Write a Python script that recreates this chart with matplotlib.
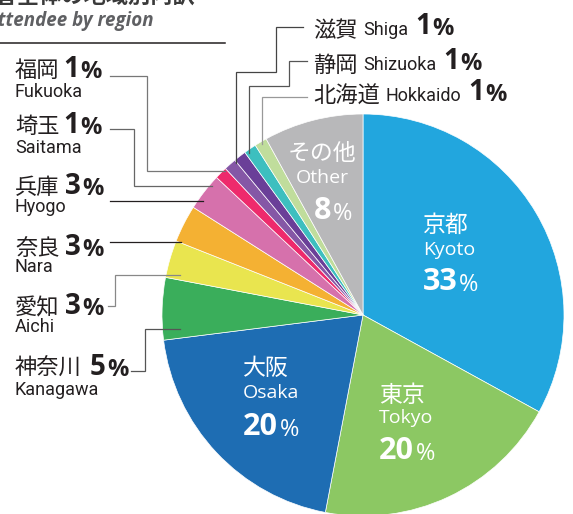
# -*- coding: utf-8 -*-
"""Attendee share by region: pie chart with leader labels."""

import matplotlib

matplotlib.use("Agg")
import matplotlib.pyplot as plt


W, H = 573, 514

TITLE_JA = "参加者全体の地域別内訳"
TITLE_EN = "Attendee by region"

REGIONS_JA = ["京都", "東京", "大阪", "神奈川", "愛知", "奈良", "兵庫",
              "埼玉", "福岡", "滋賀", "静岡", "北海道", "その他"]
REGIONS_EN = ["Kyoto", "Tokyo", "Osaka", "Kanagawa", "Aichi", "Nara", "Hyogo",
              "Saitama", "Fukuoka", "Shiga", "Shizuoka", "Hokkaido", "Other"]
SHARES = [33, 20, 20, 5, 3, 3, 3, 1, 1, 1, 1, 1, 8]

COLORS = ["#22a6de", "#8cc863", "#1e6db3", "#3aae5b", "#e9e54f", "#f4b133",
          "#d671ac", "#ee2a6c", "#8557a6", "#6a3f98", "#3dbfbf", "#c0dd9c",
          "#b8b8ba"]

CX, CY, R = 363, 315, 201  # pie centre / radius, pixels from top-left

JA = ["Noto Sans CJK JP", "DejaVu Sans"]
NARROW = ["Roboto", "DejaVu Sans"]
SANS = ["Open Sans", "DejaVu Sans"]
INK = "#231f20"


def Y(y):
    return H - y


def pct(ax, x, y, value, size, psize, color, pweight="bold"):
    t = ax.text(x, Y(y), str(value), fontsize=size, fontweight="bold",
                family=SANS, color=color, ha="left", va="baseline")
    ax.annotate("%", xy=(1, 0), xycoords=t, xytext=(1, 0),
                textcoords="offset points", fontsize=psize, fontweight=pweight,
                family=SANS, color=color, ha="left", va="bottom")
    return t


def leader(ax, pts, color):
    ax.plot([p[0] for p in pts], [Y(p[1]) for p in pts], color=color,
            lw=0.9, solid_joinstyle="miter", zorder=3)


fig = plt.figure(figsize=(W / 100, H / 100), dpi=100)
ax = fig.add_axes([0, 0, 1, 1])
ax.pie(SHARES, colors=COLORS, startangle=90, counterclock=False,
       center=(CX, Y(CY)), radius=R,
       wedgeprops=dict(edgecolor="white", linewidth=0.5))
ax.set_xlim(0, W)
ax.set_ylim(0, H)
ax.set_aspect("equal")
ax.axis("off")

# title (cut off by the top/left edges, as in the source)
ax.text(196, Y(-4), TITLE_JA, fontsize=16, fontweight="bold", family=JA,
        color="#3a3a3a", ha="right", va="center")
ax.text(154, Y(26), TITLE_EN, fontsize=13.5, fontweight="bold",
        style="italic", family=SANS, color="#5f6063", ha="right",
        va="baseline")
ax.plot([0, 225], [Y(43), Y(43)], color=INK, lw=1.1)

# labels inside the big slices: index, left x, baselines (ja, en, number)
inside = [
    (0, 423, 232, 255, 290, "left"),
    (1, 379, 402, 423, 459, "left"),
    (2, 243, 375, 398, 435, "left"),
    (12, 322, 160, 183, 219, "center"),
]
for i, x, yj, ye, yn, align in inside:
    if align == "center":
        ax.text(x, Y(yj), REGIONS_JA[i], fontsize=16.5, family=JA,
                color="white", ha="center", va="baseline")
        ax.text(x, Y(ye), REGIONS_EN[i], fontsize=14, family=SANS,
                color="white", ha="center", va="baseline")
        pct(ax, x - 8, yn, SHARES[i], 22, 17, "white", "normal")
    else:
        ax.text(x, Y(yj), REGIONS_JA[i], fontsize=16.5, family=JA,
                color="white", ha="left", va="baseline")
        ax.text(x, Y(ye), REGIONS_EN[i], fontsize=14, family=SANS,
                color="white", ha="left", va="baseline")
        pct(ax, x, yn, SHARES[i], 22, 17, "white", "normal")

# left-hand labels: index, ja/number baseline, en baseline, number x
left = [
    (8, 77, 97, 63),
    (7, 133, 153, 63),
    (6, 194, 212, 65),
    (5, 255, 272, 65),
    (4, 314, 332, 65),
    (3, 375, 395, 90),
]
for i, yj, ye, xn in left:
    ax.text(15, Y(yj), REGIONS_JA[i], fontsize=16, family=JA, color=INK,
            ha="left", va="baseline")
    ax.text(15, Y(ye), REGIONS_EN[i], fontsize=13, family=NARROW,
            color=INK, ha="left", va="baseline")
    pct(ax, xn, yj, SHARES[i], 20, 17, INK)

# top labels: index, baseline
top = [(9, 37), (10, 72), (11, 103)]
for i, yb in top:
    tj = ax.text(313, Y(yb), REGIONS_JA[i], fontsize=16, family=JA,
                 color=INK, ha="left", va="baseline")
    te = ax.annotate(REGIONS_EN[i], xy=(1, 0), xycoords=tj, xytext=(4, 2),
                     textcoords="offset points", fontsize=13,
                     family=NARROW, color=INK, ha="left", va="bottom")
    tn = ax.annotate(str(SHARES[i]), xy=(1, 0), xycoords=te, xytext=(5, -1),
                     textcoords="offset points", fontsize=20,
                     fontweight="bold", family=SANS, color=INK, ha="left",
                     va="bottom")
    ax.annotate("%", xy=(1, 0), xycoords=tn, xytext=(1, 0),
                textcoords="offset points", fontsize=17, fontweight="bold",
                family=SANS, color=INK, ha="left", va="bottom")

# leader lines
leader(ax, [(110, 76), (147, 76), (147, 171), (225, 171)], "#777777")
leader(ax, [(110, 129), (134, 129), (134, 186), (212, 186)], "#666666")
leader(ax, [(110, 201), (203, 201)], INK)
leader(ax, [(110, 242), (181, 242)], INK)
leader(ax, [(108, 306), (115, 306), (115, 275), (180, 275)], "#888888")
leader(ax, [(131, 371), (145, 371), (145, 329), (180, 329)], "#555555")
leader(ax, [(303, 27), (276, 27), (276, 72), (236, 72), (236, 163)], "#444444")
leader(ax, [(307, 61), (289, 61), (289, 86), (249, 86), (249, 153)], "#555555")
leader(ax, [(307, 97), (262, 97), (262, 144)], "#999999")

fig.savefig("out.png", dpi=100)
